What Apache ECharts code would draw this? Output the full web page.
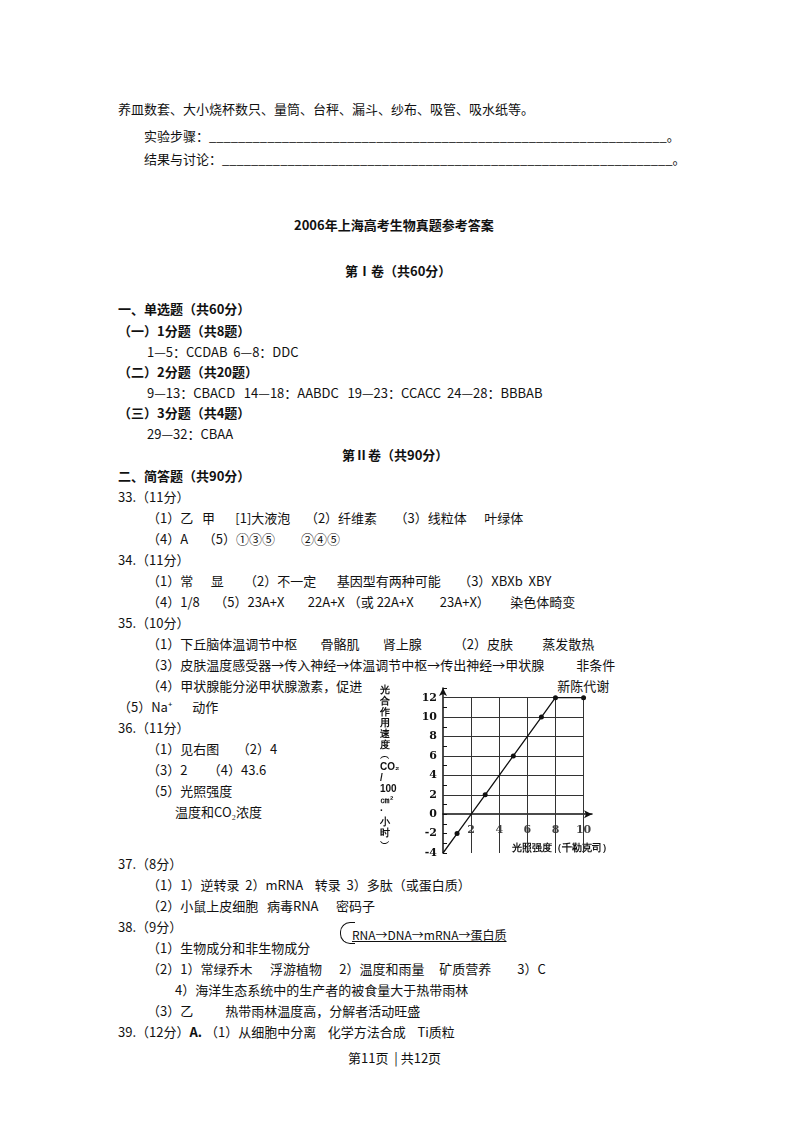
<!DOCTYPE html>
<html><head><meta charset="utf-8">
<script src="https://cdn.jsdelivr.net/npm/echarts@6/dist/echarts.min.js"></script>
<style>
body{margin:0;width:800px;height:1132px;background:#fff;font-family:"Noto Sans CJK SC";color:#111;position:relative}
.t{position:absolute;font-size:13px;white-space:pre;line-height:16px}
.b{font-weight:bold}
#chart{position:absolute;left:380px;top:680px;width:230px;height:190px}
</style></head><body>
<div class="t" style="left:118px;top:101px">养皿数套、大小烧杯数只、量筒、台秤、漏斗、纱布、吸管、吸水纸等。</div>
<div class="t" style="left:144px;top:128px">实验步骤：_______________________________________________________________。</div>
<div class="t" style="left:144px;top:151px">结果与讨论：______________________________________________________________。</div>
<div class="t b" style="left:294px;top:217px">2006年上海高考生物真题参考答案</div>
<div class="t b" style="left:345px;top:263px">第Ⅰ卷（共60分）</div>
<div class="t b" style="left:118px;top:301px">一、单选题（共60分）</div>
<div class="t b" style="left:118px;top:323px">（一）1分题（共8题）</div>
<div class="t" style="left:147px;top:344px">1—5：CCDAB  6—8：DDC</div>
<div class="t b" style="left:118px;top:364px">（二）2分题（共20题）</div>
<div class="t" style="left:147px;top:385px">9—13：CBACD   14—18：AABDC   19—23：CCACC  24—28：BBBAB</div>
<div class="t b" style="left:118px;top:405px">（三）3分题（共4题）</div>
<div class="t" style="left:147px;top:426px">29—32：CBAA</div>
<div class="t b" style="left:342px;top:447px">第Ⅱ卷（共90分）</div>
<div class="t b" style="left:118px;top:468px">二、简答题（共90分）</div>
<div class="t" style="left:118px;top:489px">33.（11分）</div>
<div class="t" style="left:147px;top:510px">（1）乙   甲       [1]大液泡     （2）纤维素      （3）线粒体      叶绿体</div>
<div class="t" style="left:147px;top:531px">（4）A     （5）①③⑤         ②④⑤</div>
<div class="t" style="left:118px;top:552px">34.（11分）</div>
<div class="t" style="left:147px;top:573px">（1）常      显       （2）不一定       基因型有两种可能      （3）XBXb  XBY</div>
<div class="t" style="left:147px;top:594px">（4）1/8     （5）23A+X        22A+X （或 22A+X         23A+X）       染色体畸变</div>
<div class="t" style="left:118px;top:615px">35.（10分）</div>
<div class="t" style="left:147px;top:636px">（1）下丘脑体温调节中枢        骨骼肌        肾上腺           （2）皮肤          蒸发散热</div>
<div class="t" style="left:147px;top:657px">（3）皮肤温度感受器→传入神经→体温调节中枢→传出神经→甲状腺           非条件</div>
<div class="t" style="left:147px;top:678px">（4）甲状腺能分泌甲状腺激素，促进                                                                   新陈代谢</div>
<div class="t" style="left:118px;top:699px">（5）Na⁺       动作</div>
<div class="t" style="left:118px;top:720px">36.（11分）</div>
<div class="t" style="left:147px;top:741px">（1）见右图      （2）4</div>
<div class="t" style="left:147px;top:762px">（3）2       （4）43.6</div>
<div class="t" style="left:147px;top:783px">（5）光照强度</div>
<div class="t" style="left:175px;top:804px">温度和CO₂浓度</div>
<div class="t" style="left:118px;top:856px">37.（8分）</div>
<div class="t" style="left:147px;top:877px">（1）1）逆转录  2）mRNA    转录  3）多肽（或蛋白质）</div>
<div class="t" style="left:147px;top:898px">（2）小鼠上皮细胞   病毒RNA      密码子</div>
<div class="t" style="left:118px;top:919px">38.（9分）</div>
<div class="t" style="left:147px;top:940px">（1）生物成分和非生物成分</div>
<div class="t" style="left:352px;top:927px;font-size:12px;text-decoration:underline">RNA→DNA→mRNA→蛋白质</div>
<div style="position:absolute;left:340px;top:922px;width:14px;height:20px;border:1.5px solid #111;border-right:none;border-radius:10px 0 0 10px"></div>
<div class="t" style="left:147px;top:961px">（2）1）常绿乔木      浮游植物      2）温度和雨量     矿质营养         3）C</div>
<div class="t" style="left:175px;top:982px">4）海洋生态系统中的生产者的被食量大于热带雨林</div>
<div class="t" style="left:147px;top:1003px">（3）乙           热带雨林温度高，分解者活动旺盛</div>
<div class="t" style="left:118px;top:1024px">39.（12分）<b>A.</b> （1）从细胞中分离    化学方法合成    Ti质粒</div>
<div class="t" style="left:348px;top:1050px">第11页  | 共12页</div>
<div id="chart"></div>
<script>
var xVals = [0, 1, 3, 5, 7, 8, 10];
var yVals = [-4, -2, 2, 6, 10, 12, 12];
var marked = [false, true, true, true, true, true, true];
var xTicks = [2, 4, 6, 8, 10];

var chart = echarts.init(document.getElementById('chart'));
var pts = xVals.map(function (x, i) {
  return {value: [x, yVals[i]], symbolSize: marked[i] ? 5 : 0};
});
var axisText = {color: '#111', fontSize: 11, fontWeight: 'bold', fontFamily: 'DejaVu Serif'};
chart.setOption({
  animation: false,
  grid: {left: 63, right: 18, top: 8, bottom: 17},
  xAxis: {
    type: 'value', min: 0, max: 10.6, interval: 1,
    axisLine: {onZero: true, lineStyle: {color: '#111', width: 1.5}, symbol: ['none', 'arrow'], symbolSize: [6, 8]},
    axisTick: {show: false},
    axisLabel: {show: false},
    splitLine: {show: false}
  },
  yAxis: {
    type: 'value', min: -4, max: 13, interval: 1,
    axisLine: {lineStyle: {color: '#111', width: 1.5}, symbol: ['none', 'arrow'], symbolSize: [6, 8]},
    axisTick: {show: true, inside: true, length: 4, lineStyle: {color: '#111'}},
    axisLabel: {formatter: function (v) { return v % 2 === 0 && v <= 12 ? v : ''; }, margin: 6, ...axisText},
    splitLine: {show: false}
  },
  graphic: [
    {type: 'text', left: 0, top: 5, style: {text: '光\n合\n作\n用\n速\n度\n︵\nCO₂\n/\n100\n㎝²\n·\n小\n时\n︶', fontSize: 10, fontWeight: 'bold', lineHeight: 11, fill: '#111'}},
    {type: 'text', left: 132, top: 163, style: {text: '光照强度（千勒克司）', fontSize: 10, fontWeight: 'bold', fill: '#111'}}
  ],
  series: [
    {type: 'line', data: pts, symbol: 'circle', itemStyle: {color: '#111'}, lineStyle: {color: '#111', width: 1.3}, z: 5},
    {type: 'line', silent: true, symbol: 'none', lineStyle: {color: '#333', width: 1},
     markLine: {symbol: 'none', silent: true, label: {show: false}, lineStyle: {color: '#333', type: 'solid', width: 1},
       data: [2,4,6,8,10].map(function (x) { return [{coord: [x, -4]}, {coord: [x, 12]}]; })
         .concat([2,4,6,8,10,12].map(function (y) { return [{coord: [0, y]}, {coord: [10, y]}]; }))},
     data: []},
    {type: 'scatter', symbolSize: 0, data: xTicks.map(function (x) { return [x, 0]; }),
     label: {show: true, position: 'bottom', distance: 10, formatter: function (p) { return p.value[0]; }, ...axisText}}
  ]
});
</script>
</body></html>
